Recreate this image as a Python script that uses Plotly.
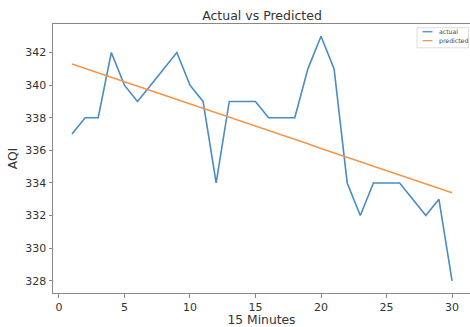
import plotly.graph_objects as go

minutes = list(range(1, 31))
actual = [337, 338, 338, 342, 340, 339, 340, 341, 342, 340,
          339, 334, 339, 339, 339, 338, 338, 338, 341, 343,
          341, 334, 332, 334, 334, 334, 333, 332, 333, 328]
predicted = [341.30, 341.03, 340.76, 340.48, 340.21, 339.94, 339.67, 339.39, 339.12, 338.85,
             338.58, 338.30, 338.03, 337.76, 337.49, 337.21, 336.94, 336.67, 336.40, 336.12,
             335.85, 335.58, 335.31, 335.03, 334.76, 334.49, 334.22, 333.94, 333.67, 333.40]
series_names = ["actual", "predicted"]
series_colors = ["#4a8cc4", "#f5964a"]
x_ticks = [0, 5, 10, 15, 20, 25, 30]
y_ticks = [328, 330, 332, 334, 336, 338, 340, 342]

FONT = "DejaVu Sans"
W, H = 470, 327
ML, MR, MT, MB = 53, 0, 24, 32

fig = go.Figure()
for name, ys, col in zip(series_names, [actual, predicted], series_colors):
    fig.add_trace(go.Scatter(x=minutes, y=ys, mode="lines", name=name,
                             line=dict(color=col, width=1.6), showlegend=False,
                             hoverinfo="skip"))

# legend drawn in paper coordinates (pixel -> paper helpers)
def px(xp):
    return (xp - ML) / (W - ML - MR)

def py(yp):
    return 1 - (yp - MT) / (H - MT - MB)

shapes = [dict(type="rect", xref="paper", yref="paper",
               x0=px(417), x1=px(468.5), y0=py(48), y1=py(27.7),
               line=dict(color="#dddddd", width=1), fillcolor="white", layer="above")]
annotations = []
for i, (name, col) in enumerate(zip(series_names, series_colors)):
    yy = 31.8 + i * 9
    shapes.append(dict(type="line", xref="paper", yref="paper",
                       x0=px(422.5), x1=px(432.5), y0=py(yy), y1=py(yy),
                       line=dict(color=col, width=1.3), layer="above"))
    annotations.append(dict(text=name, xref="paper", yref="paper",
                            x=px(436.5), y=py(yy), xanchor="left", yanchor="middle",
                            showarrow=False,
                            font=dict(size=6.2, family=FONT, color="#444")))

fig.update_layout(
    width=W, height=H,
    margin=dict(l=ML, r=MR, t=MT, b=MB),
    paper_bgcolor="white", plot_bgcolor="white",
    font=dict(family=FONT, color="#333"),
    title=dict(text="Actual vs Predicted", x=(ML + 471) / 2 / W, xanchor="center",
               y=1 - 15.5 / H, yanchor="middle",
               font=dict(size=12.5, family=FONT, color="#333")),
    showlegend=False,
    hovermode=False,
    shapes=shapes,
    annotations=annotations,
)
fig.update_xaxes(
    range=[-0.45, 31.37], tickmode="array", tickvals=x_ticks,
    showgrid=False, zeroline=False,
    showline=True, linecolor="#888", linewidth=1, mirror=True,
    ticks="outside", ticklen=3.5, tickcolor="#888",
    tickfont=dict(size=11, family=FONT, color="#333"),
    title=dict(text="15 Minutes", font=dict(size=12.3, family=FONT, color="#333"), standoff=5),
)
fig.update_yaxes(
    range=[327.25, 343.75], tickmode="array", tickvals=y_ticks,
    showgrid=False, zeroline=False,
    showline=True, linecolor="#888", linewidth=1, mirror=False,
    ticks="outside", ticklen=3.5, tickcolor="#888",
    tickfont=dict(size=11, family=FONT, color="#333"),
    title=dict(text="AQI", font=dict(size=12.3, family=FONT, color="#333"), standoff=4),
)

fig.write_html("out.html", config={"displayModeBar": False, "staticPlot": True},
               post_script="document.body.style.margin='0';document.body.style.overflow='hidden';")
